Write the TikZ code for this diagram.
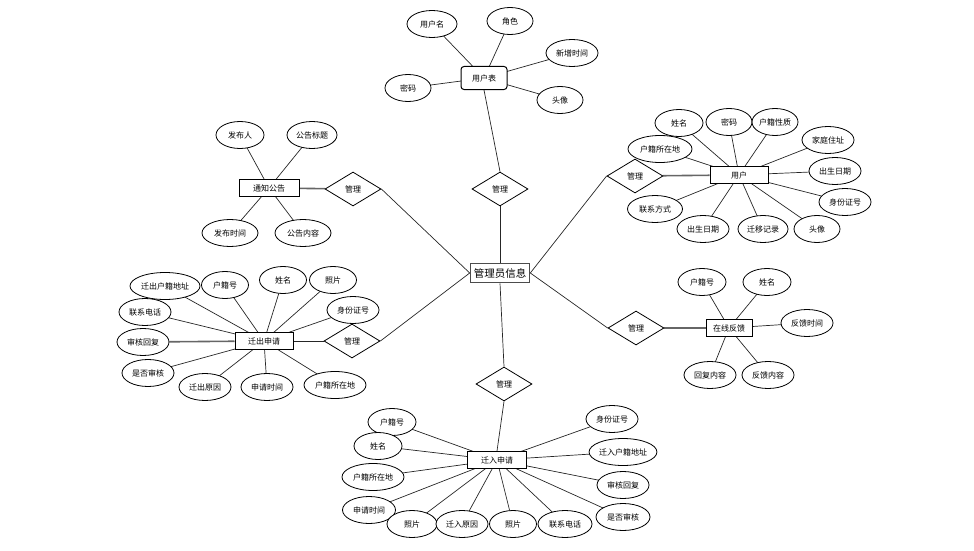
\documentclass[tikz,border=0pt]{standalone}
\usepackage{fontspec}
\newfontfamily\cjk{Noto Sans CJK SC}
\usetikzlibrary{shapes.geometric,backgrounds}
\begin{document}
\begin{tikzpicture}[x=1pt,y=-1pt,
  attr/.style={ellipse,draw=black,fill=white,line width=0.8pt,inner sep=0pt,minimum height=27pt,font=\cjk\fontsize{8}{9}\selectfont},
  ent/.style={rectangle,draw=black,line width=1pt,inner sep=0pt,minimum height=17pt,fill=white,font=\cjk\fontsize{8}{9}\selectfont},
  rel/.style={diamond,draw=black,fill=white,line width=0.8pt,inner sep=0pt,aspect=1.65,minimum width=56pt,minimum height=34pt,font=\cjk\fontsize{8}{9}\selectfont},
  ln/.style={draw=black!85,line width=0.7pt},
  tk/.style={draw=black!60,line width=1.6pt}]
\useasboundingbox (0,0) rectangle (974,551);

% center
\node[ent,draw=black!70,line width=1.6pt,minimum width=59pt,minimum height=19pt,font=\cjk\fontsize{10.5}{11}\selectfont] (c) at (500,273) {管理员信息};

% top: 用户表
\node[ent,rounded corners=3pt,minimum width=46pt,minimum height=23pt] (ut) at (484,78) {用户表};
\node[attr,minimum width=50pt] (ut1) at (432,24) {用户名};
\node[attr,minimum width=46pt] (ut2) at (510,21) {角色};
\node[attr,minimum width=52pt] (ut3) at (572,53) {新增时间};
\node[attr,minimum width=46pt] (ut4) at (560,100) {头像};
\node[attr,minimum width=46pt] (ut5) at (408,88) {密码};
\node[rel] (d1) at (500,189) {管理};

% 通知公告
\node[ent,minimum width=60pt] (tz) at (269,188) {通知公告};
\node[attr,minimum width=48pt] (tz1) at (240,135) {发布人};
\node[attr,minimum width=50pt] (tz2) at (312,135) {公告标题};
\node[attr,minimum width=56pt] (tz3) at (230,233) {发布时间};
\node[attr,minimum width=56pt] (tz4) at (303,233) {公告内容};
\node[rel] (d2) at (353,189) {管理};

% 用户
\node[ent,minimum width=58pt] (yh) at (739,175) {用户};
\node[attr,minimum width=48pt] (yh1) at (679,123) {姓名};
\node[attr,minimum width=46pt] (yh2) at (729,122) {密码};
\node[attr,minimum width=46pt] (yh3) at (775,122) {户籍性质};
\node[attr,minimum width=52pt] (yh4) at (828,140) {家庭住址};
\node[attr,minimum width=52pt] (yh5) at (835,171) {出生日期};
\node[attr,minimum width=52pt] (yh6) at (845,202) {身份证号};
\node[attr,minimum width=46pt] (yh7) at (817,229) {头像};
\node[attr,minimum width=50pt] (yh8) at (763,229) {迁移记录};
\node[attr,minimum width=52pt] (yh9) at (703,229) {出生日期};
\node[attr,minimum width=55pt] (yh10) at (655,209) {联系方式};
\node[attr,minimum width=64pt] (yh11) at (660,149) {户籍所在地};
\node[rel] (d3) at (635,176) {管理};

% 迁出申请
\node[ent,minimum width=58pt] (qc) at (264,341) {迁出申请};
\node[attr,minimum width=70pt] (qc1) at (165,286) {迁出户籍地址};
\node[attr,minimum width=47pt] (qc2) at (225,285) {户籍号};
\node[attr,minimum width=47pt] (qc3) at (283,280) {姓名};
\node[attr,minimum width=47pt] (qc4) at (333,280) {照片};
\node[attr,minimum width=52pt] (qc5) at (353,310) {身份证号};
\node[attr,minimum width=52pt] (qc6) at (145,312) {联系电话};
\node[attr,minimum width=52pt] (qc7) at (143,342) {审核回复};
\node[attr,minimum width=52pt] (qc8) at (148,373) {是否审核};
\node[attr,minimum width=52pt] (qc9) at (205,387) {迁出原因};
\node[attr,minimum width=52pt] (qc10) at (267,387) {申请时间};
\node[attr,minimum width=62pt] (qc11) at (335,385) {户籍所在地};
\node[rel] (d4) at (352,341) {管理};

% 在线反馈
\node[ent,minimum width=46pt] (zx) at (729,328) {在线反馈};
\node[attr,minimum width=48pt] (zx1) at (702,282) {户籍号};
\node[attr,minimum width=48pt] (zx2) at (767,282) {姓名};
\node[attr,minimum width=52pt] (zx3) at (807,323) {反馈时间};
\node[attr,minimum width=52pt] (zx4) at (710,375) {回复内容};
\node[attr,minimum width=52pt] (zx5) at (768,375) {反馈内容};
\node[rel] (d5) at (636,328) {管理};

% 迁入申请
\node[ent,minimum width=59pt] (qr) at (497,460) {迁入申请};
\node[attr,minimum width=48pt] (qr1) at (392,422) {户籍号};
\node[attr,minimum width=48pt] (qr2) at (378,446) {姓名};
\node[attr,minimum width=62pt] (qr3) at (373,477) {户籍所在地};
\node[attr,minimum width=53pt] (qr4) at (369,510) {申请时间};
\node[attr,minimum width=50pt] (qr5) at (412,524) {照片};
\node[attr,minimum width=52pt] (qr6) at (462,524) {迁入原因};
\node[attr,minimum width=47pt] (qr7) at (513,524) {照片};
\node[attr,minimum width=54pt] (qr8) at (565,524) {联系电话};
\node[attr,minimum width=52pt] (qr9) at (612,419) {身份证号};
\node[attr,minimum width=62pt] (qr10) at (623,452) {迁入户籍地址};
\node[attr,minimum width=52pt] (qr11) at (623,485) {审核回复};
\node[attr,minimum width=54pt] (qr12) at (623,517) {是否审核};
\node[rel] (d6) at (504,384) {管理};

\begin{scope}[on background layer]
\foreach \i in {1,...,5} \draw[ln] (ut.center) -- (ut\i.center);
\draw[ln] (ut.south) -- (d1.north);
\draw[ln] (d1.south) -- (c.north);
\foreach \i in {1,...,4} \draw[ln] (tz.center) -- (tz\i.center);
\draw[tk] (tz) -- (d2);
\draw[ln] (d2.east) -- (c.west);
\foreach \i in {1,...,11} \draw[ln] (yh.center) -- (yh\i.center);
\draw[tk] (d3) -- (yh);
\draw[ln] (d3.west) -- (c.east);
\foreach \i in {1,2,3,4,5,6,8,9,10,11} \draw[ln] (qc.center) -- (qc\i.center);
\draw[tk] (qc) -- (qc7);
\draw[ln] (qc) -- (d4);
\draw[ln] (d4.east) -- (c.west);
\foreach \i in {1,...,5} \draw[ln] (zx.center) -- (zx\i.center);
\draw[tk] (d5) -- (zx);
\draw[ln] (d5.west) -- (c.east);
\foreach \i in {1,...,12} \draw[ln] (qr.center) -- (qr\i.center);
\draw[ln] (c.south) -- (d6.north);
\draw[ln] (d6.south) -- (qr.north);
\end{scope}
\end{tikzpicture}
\end{document}
